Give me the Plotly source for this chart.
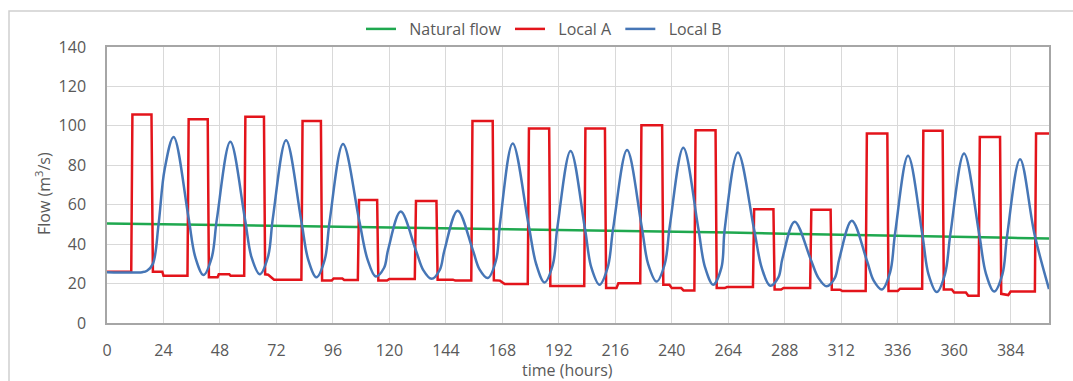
import plotly.graph_objects as go

# ---------------- data ----------------
natural_t = [0, 24, 48, 72, 96, 120, 144, 168, 192, 216, 240, 264, 288, 312, 336, 360, 384, 400.3]
natural_q = [50.5, 50.1, 49.7, 49.3, 48.9, 48.5, 48.2, 47.8, 47.3, 46.9, 46.4, 45.9, 45.3, 44.7, 44.2, 43.7, 43.2, 42.9]

localA_t = [0, 10.3, 10.8, 18.9, 19.5, 23.5, 24, 34.2, 34.7, 42.8, 43.3, 47, 47.5, 52, 52.5, 58.3,
            58.8, 66.7, 67.2, 68.5, 71, 82.6, 83.1, 90.9, 91.4, 95.5, 96.3, 100, 100.8, 106.6,
            107.1, 114.8, 115.3, 119, 120, 130.8, 131.3, 140, 140.5, 147, 148, 154.8, 155.3, 163.9,
            164.4, 167, 169, 178.8, 179.3, 187.9, 188.4, 202.8, 203.3, 211.6, 212.1, 216.5, 217.3,
            226.6, 227.1, 235.9, 236.4, 239, 240, 244, 245, 249.6, 250.1, 258.6, 259.1, 262.5,
            263.5, 274.5, 275, 283.2, 283.7, 286.5, 287.5, 298.8, 299.3, 307.5, 308, 311.5, 312.5,
            322.4, 322.9, 331.6, 332.1, 336, 337, 346.4, 346.9, 355.1, 355.6, 359, 360, 365, 366,
            370.4, 370.9, 379.5, 380, 382, 383, 384, 394.3, 394.8, 400.3]
localA_q = [26, 26, 105.8, 105.8, 26, 26, 24, 24, 103.4, 103.4, 23.2, 23.2, 24.7, 24.7, 24, 24,
            104.6, 104.6, 24.7, 24.5, 22, 22, 102.5, 102.5, 21.5, 21.5, 22.6, 22.6, 21.8, 21.8,
            62.4, 62.4, 21.5, 21.5, 22.3, 22.3, 61.9, 61.9, 22, 22, 21.5, 21.5, 102.5, 102.5,
            21.7, 21.5, 19.8, 19.8, 98.7, 98.7, 18.8, 18.8, 98.7, 98.7, 17.7, 17.7, 20.2,
            20.2, 100.3, 100.3, 19.4, 19.4, 17.7, 17.7, 16.5, 16.5, 97.8, 97.8, 17.7, 17.7,
            18.2, 18.2, 57.7, 57.7, 17, 17, 17.8, 17.8, 57.5, 57.5, 16.9, 16.9, 16.2,
            16.2, 96.1, 96.1, 16.2, 16.2, 17.4, 17.4, 97.5, 97.5, 17, 17, 15.5, 15.5, 13.8,
            13.8, 94.4, 94.4, 14.8, 14.5, 14.2, 16, 16, 96.1, 96.1]

localB_t = [0, 15, 17, 19.5, 21.9, 24.5, 28.3, 34.6, 37.5, 41, 44.5, 46.7, 52.4, 58.6, 61.4, 64.9,
            68.4, 70.5, 76.1, 82.5, 85.5, 89, 92.5, 94.6, 100.3, 107.2, 110.7, 114.2, 117.7, 119.5,
            124.8, 131.3, 134.4, 137.9, 141.4, 143.4, 149, 155.4, 158.3, 161.8, 165.3, 167.1, 172.4,
            179.1, 182.4, 185.9, 189.4, 191.4, 197, 203.1, 205.8, 209.3, 212.8, 215.1, 221, 227.2,
            230, 233.5, 237, 239.2, 244.9, 251.2, 254.1, 257.6, 261.1, 262.5, 268.1, 275, 278.3,
            281.8, 285.3, 287, 292.2, 299, 302.3, 305.8, 309.3, 311.2, 316.5, 322.9, 325.8, 329.3,
            332.8, 334.9, 340.4, 346.5, 349.1, 352.6, 356.1, 358.4, 364.2, 370.6, 373.5, 377, 380.5,
            382.5, 388, 394.2, 400.3]
localB_q = [25.8, 25.8, 26.5, 30, 50, 78, 94.4, 53.8, 33.5, 24.4, 33.2, 52.8, 91.9, 52.9, 33.4, 24.7,
            33.5, 53.3, 92.7, 52.4, 32.2, 23.2, 32.0, 51.6, 90.8, 51.8, 32.3, 23.6, 27.9, 37.4,
            56.5, 36.7, 26.8, 22.4, 26.9, 36.9, 57, 37.2, 27.2, 22.8, 31.7, 51.5, 91.1,
            50.2, 29.8, 20.6, 29.3, 48.6, 87.3, 47.9, 28.2, 19.4, 28.3, 48.1, 87.7, 49,
            29.7, 21, 29.8, 49.5, 88.9, 48.6, 28.4, 19.4, 28.1, 47.6, 86.5, 47.3, 27.7,
            18.9, 23.1, 32.6, 51.4, 32.4, 22.9, 18.6, 22.9, 32.6, 51.9, 31.7, 21.5, 17.0,
            25.8, 45.5, 84.8, 44.7, 24.7, 15.7, 24.8, 45.2, 86, 45.4, 25.1, 16, 24.7,
            44.2, 83.1, 44.7, 17.2]

x_ticks = list(range(0, 385, 24))
y_ticks = list(range(0, 141, 20))

GREEN = "#1fa84f"
RED = "#e3141b"
BLUE = "#4676b6"
TXT = "#595959"
FONT = "Open Sans"
NB = "\u00a0"

fig = go.Figure()
fig.add_trace(go.Scatter(x=natural_t, y=natural_q, mode="lines", name=NB * 2 + "Natural flow" + NB,
                         line=dict(color=GREEN, width=2.5)))
fig.add_trace(go.Scatter(x=localA_t, y=localA_q, mode="lines", name=NB * 2 + "Local A" + NB,
                         line=dict(color=RED, width=2.5)))
fig.add_trace(go.Scatter(x=localB_t, y=localB_q, mode="lines", name=NB * 2 + "Local B",
                         line=dict(color=BLUE, width=2.5, shape="spline", smoothing=1.0)))

W, H = 1073, 381
L, R, T, B = 107, 24, 47, 58
pw, ph = W - L - R, H - T - B

def px_x(px):
    return (px - L) / pw

def px_y(py):
    return (H - B - py) / ph

fig.update_layout(
    width=W, height=H,
    margin=dict(l=L, r=R, t=T, b=B, autoexpand=False),
    paper_bgcolor="white", plot_bgcolor="white",
    font=dict(family=FONT, size=16, color=TXT),
    showlegend=True,
    legend=dict(orientation="h", x=px_x(361), xanchor="left", y=px_y(29), yanchor="middle",
                font=dict(family=FONT, size=16, color=TXT), bgcolor="rgba(0,0,0,0)",
                itemwidth=30, tracegroupgap=0),
    hovermode=False,
    xaxis=dict(range=[0, 400.3], tickvals=x_ticks, ticktext=[str(v) for v in x_ticks],
               showgrid=True, gridcolor="#d9d9d9", gridwidth=1,
               showline=True, linecolor="#a6a6a6", linewidth=1.5, mirror=True,
               ticks="", ticklabelstandoff=12, zeroline=False,
               tickfont=dict(family=FONT, size=16, color=TXT)),
    yaxis=dict(range=[0, 140], tickvals=y_ticks, ticktext=[str(v) for v in y_ticks],
               showgrid=True, gridcolor="#d9d9d9", gridwidth=1,
               showline=True, linecolor="#a6a6a6", linewidth=1.5, mirror=True,
               ticks="", ticklabelstandoff=16, zeroline=False,
               tickfont=dict(family=FONT, size=16, color=TXT)),
    annotations=[
        dict(text="time (hours)", x=px_x(567), y=px_y(370), xref="paper", yref="paper",
             showarrow=False, xanchor="center", yanchor="middle",
             font=dict(family=FONT, size=16, color=TXT)),
        dict(text="Flow (m<sup>3</sup>/s)", x=px_x(43), y=px_y(194), xref="paper", yref="paper",
             showarrow=False, xanchor="center", yanchor="middle", textangle=-90,
             font=dict(family=FONT, size=16, color=TXT)),
    ],
    shapes=[
        dict(type="rect", xref="paper", yref="paper",
             x0=px_x(9), x1=px_x(1090), y0=px_y(400), y1=px_y(11),
             line=dict(color="#cfcfcf", width=1.5), fillcolor="rgba(0,0,0,0)", layer="below"),
    ],
)

fig.write_html("out.html", config={"displayModeBar": False},
               post_script="document.body.style.margin='0';document.body.style.overflow='hidden';")
